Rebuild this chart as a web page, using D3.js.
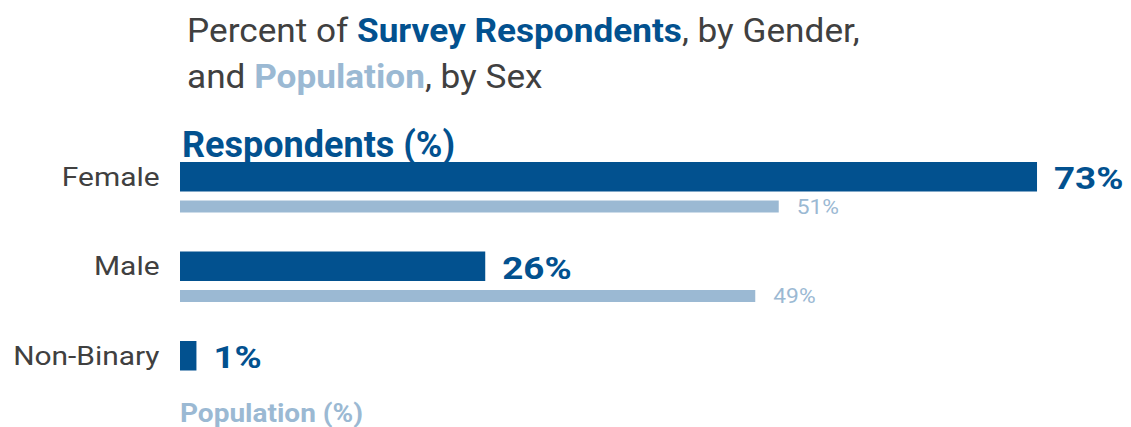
<!DOCTYPE html>
<html><head><meta charset="utf-8">
<script src="https://cdn.jsdelivr.net/npm/d3@7"></script>
<style>body{margin:0;background:#fff}svg{display:block}text{font-family:Roboto,"Noto Sans",sans-serif}</style>
</head><body><svg id="c" width="1131" height="427"></svg>
<script>
const categories = ["Female", "Male", "Non-Binary"];
const respondents = [73, 26, 1.4];
const respondentLabels = ["73%", "26%", "1%"];
const population = [51, 49, null];
const populationLabels = ["51%", "49%", ""];

const dark = "#02518F", light = "#9BB9D3", gray = "#404040";
const svg = d3.select("#c");
const x = d3.scaleLinear().domain([0, 100]).range([180, 180 + 1174]);
const y = d3.scaleBand().domain(categories).range([162, 162 + 3 * 89.5]);

// place text at (px,py) with horizontal stretch sx
function place(sel, px, py, sx) {
  return sel.attr("x", 0).attr("y", 0)
    .attr("transform", (d, i) => `translate(${typeof px === "function" ? px(d, i) : px},${typeof py === "function" ? py(d, i) : py}) scale(${sx},1)`);
}

// title
const t = place(svg.append("text"), 187, 41.7, 1.035).attr("font-size", 34).attr("fill", gray);
t.append("tspan").text("Percent of ");
t.append("tspan").attr("font-weight", 700).attr("fill", dark).text("Survey Respondents");
t.append("tspan").text(", by Gender,");
const t2 = place(svg.append("text"), 187, 88, 1.035).attr("font-size", 34).attr("fill", gray);
t2.append("tspan").text("and ");
t2.append("tspan").attr("font-weight", 700).attr("fill", light).text("Population");
t2.append("tspan").text(", by Sex");

place(svg.append("text"), 182, 157, 1.0).attr("font-size", 36).attr("font-weight", 700)
  .attr("fill", dark).text("Respondents (%)");
place(svg.append("text"), 180, 421.5, 1.12).attr("font-size", 25).attr("font-weight", 700)
  .attr("fill", light).text("Population (%)");

const rows = categories.map((c, i) => ({c, r: respondents[i], rl: respondentLabels[i], p: population[i], pl: populationLabels[i]}));

place(svg.selectAll(".cat").data(rows).join("text").attr("class", "cat"), 159.5, d => y(d.c) + 14.75, 1.15)
  .attr("dy", "0.35em").attr("text-anchor", "end").attr("font-size", 26).attr("fill", gray).text(d => d.c);

svg.selectAll(".rbar").data(rows).join("rect").attr("class", "rbar")
  .attr("x", x(0)).attr("y", d => y(d.c)).attr("height", 29.5)
  .attr("width", d => x(d.r) - x(0)).attr("fill", dark);
place(svg.selectAll(".rlab").data(rows).join("text").attr("class", "rlab"), d => x(d.r) + 17, d => y(d.c) + 27.3, 1.15)
  .attr("font-size", 32).attr("font-weight", 700).attr("fill", dark).text(d => d.rl);

const pr = rows.filter(d => d.p != null);
svg.selectAll(".pbar").data(pr).join("rect").attr("class", "pbar")
  .attr("x", x(0)).attr("y", d => y(d.c) + 38.5).attr("height", 12)
  .attr("width", d => x(d.p) - x(0)).attr("fill", light);
place(svg.selectAll(".plab").data(pr).join("text").attr("class", "plab"), d => x(d.p) + 18, d => y(d.c) + 44.5, 1.14)
  .attr("dy", "0.35em").attr("font-size", 20).attr("fill", light).text(d => d.pl);
</script></body></html>
